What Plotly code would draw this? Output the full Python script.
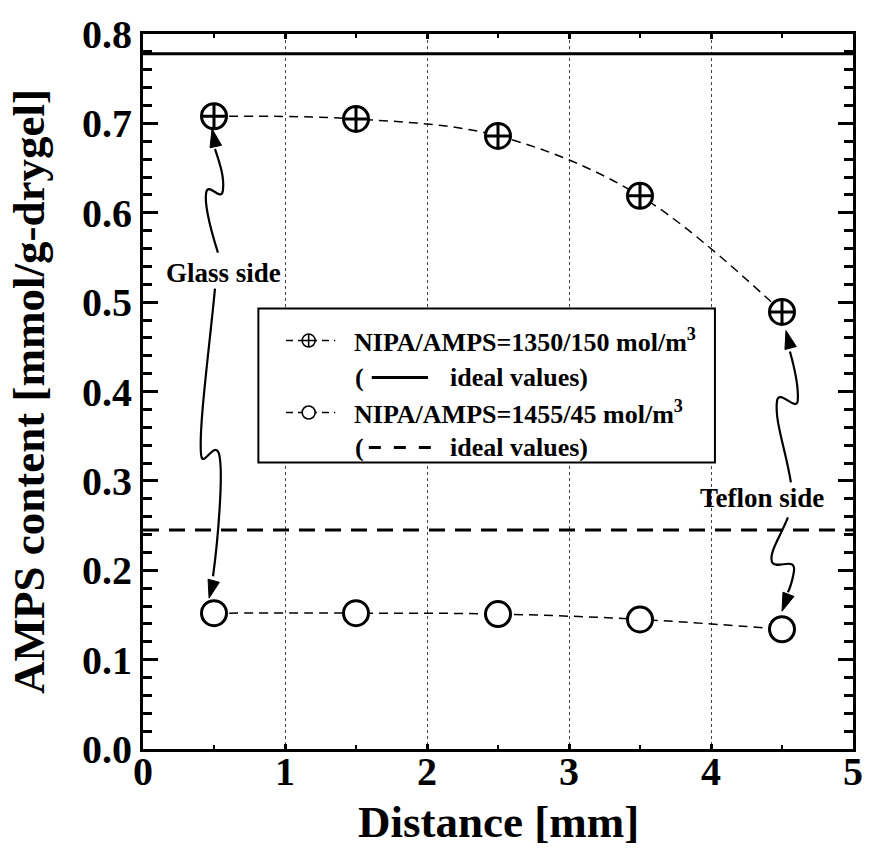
import plotly.graph_objects as go

# ---------------- data ----------------
distance = [0.5, 1.5, 2.5, 3.5, 4.5]
amps_1350_150 = [0.708, 0.705, 0.686, 0.619, 0.489]
amps_1455_45 = [0.152, 0.152, 0.151, 0.145, 0.134]
ideal_1350_150 = 0.778
ideal_1455_45 = 0.245

label_150 = "<b>NIPA/AMPS=1350/150 mol/m<sup>3</sup></b>"
label_45 = "<b>NIPA/AMPS=1455/45 mol/m<sup>3</sup></b>"
label_ideal = "<b>ideal values)</b>"
x_title = "<b>Distance [mm]</b>"
y_title = "<b>AMPS content [mmol/g-drygel]</b>"
x_tickvals = [0, 1, 2, 3, 4, 5]
x_ticktext = ["0", "1", "2", "3", "4", "5"]
y_tickvals = [0.0, 0.1, 0.2, 0.3, 0.4, 0.5, 0.6, 0.7, 0.8]
y_ticktext = ["0.0", "0.1", "0.2", "0.3", "0.4", "0.5", "0.6", "0.7", "0.8"]
note_glass = "<b>Glass side</b>"
note_teflon = "<b>Teflon side</b>"

# ---------------- layout helpers ----------------
W, H = 875, 861
L, R, T, B = 143, 12, 33, 112
XMIN, XMAX, YMIN, YMAX = 0, 5, 0.0, 0.8
FONT = "Liberation Serif"


def px2x(px):
    return XMIN + (px - L) / (W - L - R) * (XMAX - XMIN)


def py2y(py):
    return YMAX - (py - T) / (H - T - B) * (YMAX - YMIN)


def bez_path(pts):
    s = "M %.4f,%.4f" % (px2x(pts[0][0]), py2y(pts[0][1]))
    rest = pts[1:]
    for i in range(0, len(rest), 3):
        seg = rest[i:i + 3]
        s += " C " + " ".join("%.4f,%.4f" % (px2x(a), py2y(b)) for a, b in seg)
    return s


def bold_ticks(labels):
    return ["<b>%s</b>" % t for t in labels]


fig = go.Figure()

# ideal lines
fig.add_trace(go.Scatter(x=[XMIN, XMAX], y=[ideal_1350_150] * 2, mode="lines",
                         line=dict(color="black", width=3), showlegend=False,
                         hoverinfo="skip"))
fig.add_trace(go.Scatter(x=[XMIN, XMAX], y=[ideal_1455_45] * 2, mode="lines",
                         line=dict(color="black", width=3, dash="16px,10px"),
                         showlegend=False, hoverinfo="skip"))

# measured series
fig.add_trace(go.Scatter(x=distance, y=amps_1350_150, mode="lines+markers",
                         line=dict(color="black", width=1.5, dash="9px,6px", shape="spline"),
                         marker=dict(symbol="circle-cross", size=25, color="white",
                                     line=dict(color="black", width=3)),
                         showlegend=False))
fig.add_trace(go.Scatter(x=distance, y=amps_1455_45, mode="lines+markers",
                         line=dict(color="black", width=1.5, dash="9px,6px", shape="spline"),
                         marker=dict(symbol="circle", size=25, color="white",
                                     line=dict(color="black", width=3)),
                         showlegend=False))

shapes = []
annotations = []

# ---------------- custom legend ----------------
box = dict(x0=260, x1=723, y0=308, y1=462)
shapes.append(dict(type="rect", xref="x", yref="y",
                   x0=px2x(box["x0"]), x1=px2x(box["x1"]),
                   y0=py2y(box["y1"]), y1=py2y(box["y0"]),
                   line=dict(color="black", width=2), fillcolor="white", layer="between"))

rows_y = [340, 377, 412, 447]
sym_x0, sym_x1, sym_mid = 288, 338, 311
text_x_series = 355
paren_x = 356
line_x0, line_x1 = 375, 432
text_x_ideal = 452

for ry in (rows_y[0], rows_y[2]):
    shapes.append(dict(type="line", xref="x", yref="y", x0=px2x(sym_x0), x1=px2x(sym_x1),
                       y0=py2y(ry), y1=py2y(ry), line=dict(color="black", width=1.5, dash="7px,5px"),
                       layer="between"))
fig.add_trace(go.Scatter(x=[px2x(sym_mid), px2x(sym_mid)], y=[py2y(rows_y[0]), py2y(rows_y[2])],
                         mode="markers",
                         marker=dict(symbol=["circle-cross", "circle"], size=13, color="white",
                                     line=dict(color="black", width=1.6)),
                         showlegend=False, hoverinfo="skip", cliponaxis=False))
shapes.append(dict(type="line", xref="x", yref="y", x0=px2x(line_x0), x1=px2x(line_x1),
                   y0=py2y(rows_y[1]), y1=py2y(rows_y[1]), line=dict(color="black", width=3),
                   layer="above"))
shapes.append(dict(type="line", xref="x", yref="y", x0=px2x(line_x0 - 3), x1=px2x(line_x1 + 3),
                   y0=py2y(rows_y[3]), y1=py2y(rows_y[3]),
                   line=dict(color="black", width=3, dash="12px,13px"), layer="above"))

legend_font = dict(family=FONT, size=26, color="black")
for ry, txt in ((rows_y[0], label_150), (rows_y[2], label_45)):
    annotations.append(dict(x=px2x(text_x_series), y=py2y(ry), xref="x", yref="y", text=txt,
                            showarrow=False, xanchor="left", yanchor="middle", font=legend_font))
for ry in (rows_y[1], rows_y[3]):
    annotations.append(dict(x=px2x(paren_x), y=py2y(ry), xref="x", yref="y", text="<b>(</b>",
                            showarrow=False, xanchor="left", yanchor="middle", font=legend_font))
    annotations.append(dict(x=px2x(text_x_ideal), y=py2y(ry), xref="x", yref="y", text=label_ideal,
                            showarrow=False, xanchor="left", yanchor="middle", font=legend_font))

# ---------------- notes with wavy arrows ----------------
note_font = dict(family=FONT, size=27, color="black")
annotations.append(dict(x=px2x(225), y=py2y(272), xref="x", yref="y", text=note_glass,
                        showarrow=False, font=note_font))
annotations.append(dict(x=px2x(771), y=py2y(498), xref="x", yref="y", text=note_teflon,
                        showarrow=False, font=note_font))

# x axis title (placed explicitly to match the reference spacing)
annotations.append(dict(x=0.5, y=(H - B - 822) / (H - T - B), xref="paper", yref="paper",
                        text=x_title, showarrow=False, yanchor="middle",
                        font=dict(family=FONT, size=45, color="black")))

wavy = [
    [(219, 252), (212, 230), (205, 205), (207, 192), (209, 180), (222, 202), (224, 190),
     (226, 176), (220, 160), (216, 148)],
    [(216, 288), (210, 350), (199, 430), (202, 455), (204, 468), (215, 440), (220, 453),
     (225, 470), (219, 540), (214, 576)],
    [(800, 482), (795, 450), (783, 420), (786, 400), (788, 388), (806, 412), (807, 400),
     (808, 385), (803, 365), (799, 351)],
    [(797, 517), (790, 535), (777, 553), (781, 562), (786, 570), (806, 555), (803, 572),
     (801, 583), (799, 588), (797, 592)],
]
for w in wavy:
    shapes.append(dict(type="path", xref="x", yref="y", path=bez_path(w),
                       line=dict(color="black", width=2.2)))

# arrowheads: tip position (px) and direction angle (deg, clockwise from up)
heads = [((213, 128), -12), ((210, 598), 195), ((795, 330), -15), ((791, 611), 201)]
fig.add_trace(go.Scatter(x=[px2x(h[0][0]) for h in heads], y=[py2y(h[0][1]) for h in heads],
                         mode="markers",
                         marker=dict(symbol="arrow", size=19, color="black",
                                     angle=[h[1] for h in heads],
                                     line=dict(color="black", width=1)),
                         showlegend=False, hoverinfo="skip", cliponaxis=False))

axis_common = dict(showline=True, linecolor="black", linewidth=3, mirror="allticks",
                   ticks="inside", tickcolor="black", tickwidth=3,
                   tickfont=dict(family=FONT, size=40, color="black"),
                   zeroline=False)

fig.update_layout(
    width=W, height=H,
    margin=dict(l=L, r=R, t=T, b=B),
    paper_bgcolor="white", plot_bgcolor="white",
    font=dict(family=FONT, color="black"),
    showlegend=False,
    shapes=shapes, annotations=annotations,
    xaxis=dict(range=[XMIN, XMAX], tickvals=x_tickvals, ticktext=bold_ticks(x_ticktext), ticklen=5,
               ticklabelstandoff=-15,
               showgrid=True, gridcolor="#444", gridwidth=1, griddash="dot",
               minor=dict(ticks="inside", dtick=0.5, ticklen=4, tickwidth=2, tickcolor="black",
                          showgrid=False),
               **axis_common),
    yaxis=dict(range=[YMIN, YMAX], tickvals=y_tickvals, ticktext=bold_ticks(y_ticktext), ticklen=15,
               showgrid=False,
               minor=dict(ticks="inside", dtick=0.02, ticklen=9, tickwidth=2.5, tickcolor="black"),
               title=dict(text=y_title, font=dict(family=FONT, size=45, color="black"),
                          standoff=24),
               **axis_common),
)

fig.write_html("out.html")
